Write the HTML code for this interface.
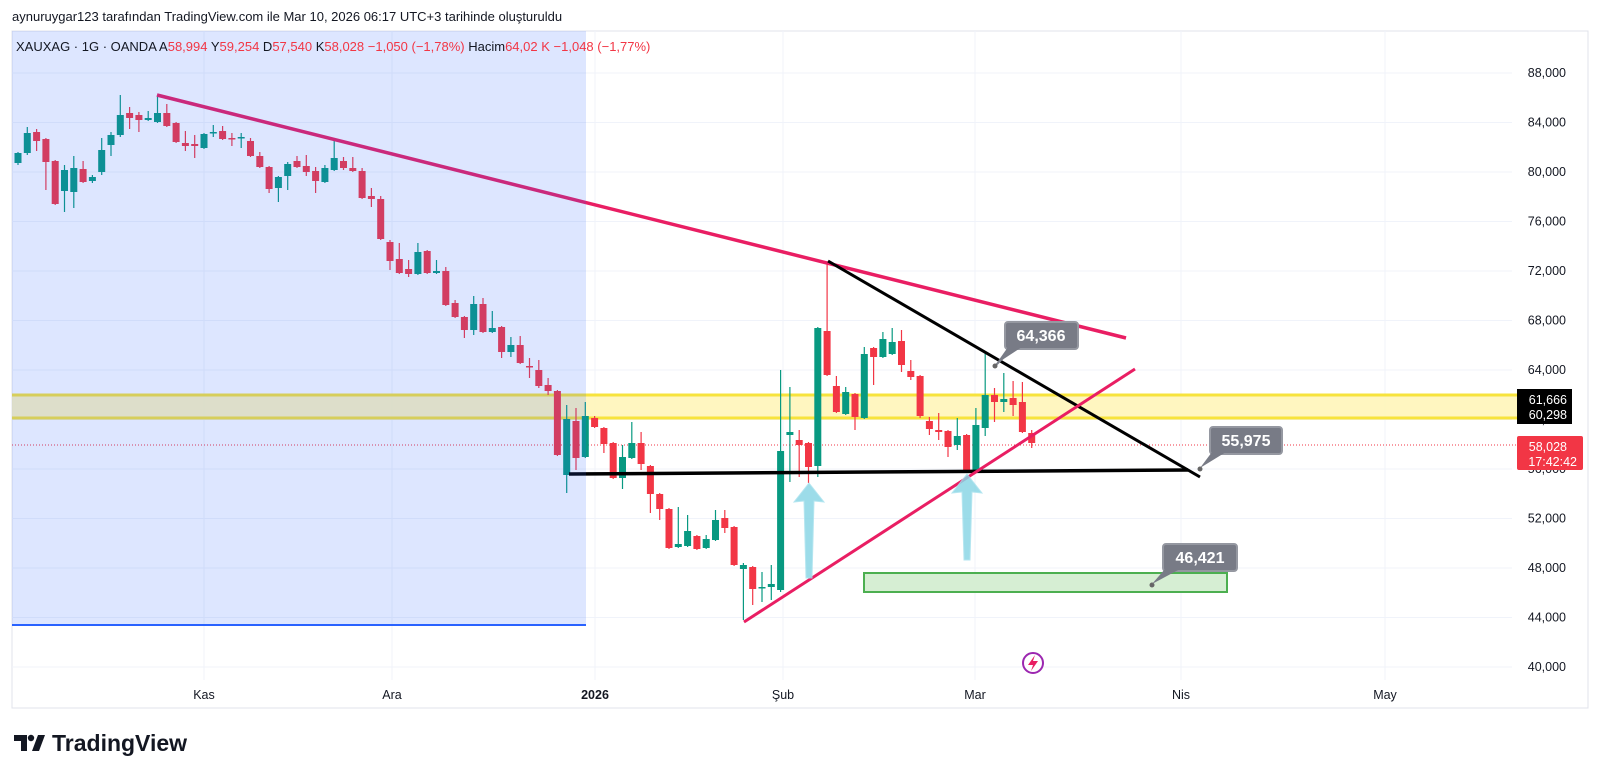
<!DOCTYPE html>
<html><head><meta charset="utf-8">
<style>
body{margin:0;background:#fff;width:1600px;height:776px;overflow:hidden;font-family:"Liberation Sans",sans-serif;}
svg{position:absolute;left:0;top:0}
</style></head><body>
<svg id="s" width="1600" height="776" xmlns="http://www.w3.org/2000/svg" font-family="Liberation Sans, sans-serif">
<rect x="0" y="0" width="1600" height="776" fill="#fff"/>
<rect x="12" y="31" width="1576" height="677" fill="none" stroke="#e0e3eb"/>
<g id="grid" stroke="#f0f3fa" stroke-width="1"></g>
<rect x="12" y="395" width="1508" height="23" fill="#fff5b5" opacity="0.85"/>
<line x1="12" y1="395" x2="1520" y2="395" stroke="#f7e33c" stroke-width="3"/>
<line x1="12" y1="418" x2="1520" y2="418" stroke="#f7e33c" stroke-width="3"/>
<line x1="12" y1="445" x2="1520" y2="445" stroke="#f23645" stroke-width="1" stroke-dasharray="1,2"/>
<g id="candles"></g>
<line x1="157" y1="95" x2="1126" y2="338" stroke="#e91e63" stroke-width="3.5"/>
<line x1="828" y1="261" x2="1200" y2="477" stroke="#000" stroke-width="3"/>
<line x1="569" y1="474" x2="1188" y2="470" stroke="#000" stroke-width="3.5"/>
<line x1="744" y1="622" x2="1135" y2="369" stroke="#e91e63" stroke-width="3"/>
<rect x="12" y="31" width="574" height="594" fill="#2962ff" opacity="0.16"/>
<line x1="12" y1="625" x2="586" y2="625" stroke="#2962ff" stroke-width="2"/>
<path d="M809 483 L824 502 L814 501 L812 578 L806 578 L804 501 L794 502 Z" fill="#8bd6e6" stroke="#a9e2ee" stroke-width="1" opacity="0.85"/>
<path d="M967 474 L982 493 L972 492 L970 560 L964 560 L962 492 L952 493 Z" fill="#8bd6e6" stroke="#a9e2ee" stroke-width="1" opacity="0.85"/>
<rect x="864" y="573" width="363" height="19" fill="#d6eed3" stroke="#4caf50" stroke-width="2"/>
<g>
<path d="M995 366 L1012 349" stroke="#80848e" stroke-width="2"/>
<circle cx="995" cy="366" r="2.5" fill="#666"/>
<rect x="1005" y="322" width="73" height="27" rx="3" fill="#787b86" stroke="#9598a1" stroke-width="2"/>
<path d="M1008 347 L996 364 L1022 347 Z" fill="#787b86"/>
<text x="1041" y="341" fill="#fff" font-size="16" font-weight="bold" text-anchor="middle">64,366</text>
</g>
<g>
<circle cx="1200" cy="469" r="2.5" fill="#666"/>
<rect x="1210" y="427" width="72" height="27" rx="3" fill="#787b86" stroke="#9598a1" stroke-width="2"/>
<path d="M1212 452 L1200 468 L1226 452 Z" fill="#787b86"/>
<text x="1246" y="446" fill="#fff" font-size="16" font-weight="bold" text-anchor="middle">55,975</text>
</g>
<g>
<circle cx="1152" cy="585" r="2.5" fill="#666"/>
<rect x="1163" y="544" width="74" height="27" rx="3" fill="#787b86" stroke="#9598a1" stroke-width="2"/>
<path d="M1165 569 L1152 584 L1180 569 Z" fill="#787b86"/>
<text x="1200" y="563" fill="#fff" font-size="16" font-weight="bold" text-anchor="middle">46,421</text>
</g>
<circle cx="1033" cy="663" r="10" fill="#fff" stroke="#9c27b0" stroke-width="2"/>
<path d="M1035 655 L1028 665 L1033 665 L1031 671 L1038 661 L1033 661 Z" fill="#e91e63"/>
<g id="paxis" font-size="12.5" fill="#131722" text-anchor="end"></g>
<rect x="1517" y="389" width="55" height="35" fill="#000"/>
<text x="1567" y="404" font-size="12.5" fill="#fff" text-anchor="end">61,666</text>
<text x="1567" y="419" font-size="12.5" fill="#fff" text-anchor="end">60,298</text>
<rect x="1517" y="436" width="66" height="34" rx="2" fill="#f23645"/>
<text x="1567" y="451" font-size="12.5" fill="#fff" text-anchor="end">58,028</text>
<text x="1577" y="466" font-size="12.5" fill="#fff" text-anchor="end">17:42:42</text>
<g font-size="12.5" fill="#131722" text-anchor="middle">
<text x="204" y="699">Kas</text><text x="392" y="699">Ara</text>
<text x="595" y="699" font-weight="bold">2026</text><text x="783" y="699">Şub</text>
<text x="975" y="699">Mar</text><text x="1181" y="699">Nis</text><text x="1385" y="699">May</text>
</g>
<text x="12" y="21" font-size="13" fill="#131722">aynuruygar123 tarafından TradingView.com ile Mar 10, 2026 06:17 UTC+3 tarihinde oluşturuldu</text>
<text x="16" y="51" font-size="13" fill="#131722">XAUXAG · 1G · OANDA  A<tspan fill="#f23645">58,994</tspan> Y<tspan fill="#f23645">59,254</tspan> D<tspan fill="#f23645">57,540</tspan> K<tspan fill="#f23645">58,028</tspan> <tspan fill="#f23645">−1,050 (−1,78%)</tspan> Hacim<tspan fill="#f23645">64,02 K</tspan> <tspan fill="#f23645">−1,048 (−1,77%)</tspan></text>
<g fill="#131722">
<path d="M14 735 h13 v16 h-6 v-10 h-7 Z"/><circle cx="31" cy="738" r="3.2"/><path d="M32 751 l6 -16 h7 l-6 16 Z"/>
</g>
<text x="52" y="751" font-size="23" font-weight="bold" fill="#131722">TradingView</text>
</svg>
<script>
var NS="http://www.w3.org/2000/svg";
function el(p,t,a){var e=document.createElementNS(NS,t);for(var k in a)e.setAttribute(k,a[k]);p.appendChild(e);return e;}
var g=document.getElementById('grid');
[204,392,595,783,975,1181,1385].forEach(function(x){el(g,'line',{x1:x,y1:31,x2:x,y2:680});});
var pa=document.getElementById('paxis');
for(var k=0;k<=12;k++){var y=73+k*49.5;el(g,'line',{x1:12,y1:y,x2:1512,y2:y});
 var t=el(pa,'text',{x:1566,y:y+4});t.textContent=(88-4*k)+",000";}
var D=[
"g,153,163,152,165","g,133,153,127,155","r,132,141,129,151","r,139,162,138,190","r,161,204,160,205",
"g,170,191,165,212","g,168,192,156,208","r,169,182,161,183","g,177,181,175,183","g,150,172,138,175",
"g,135,145,132,156","g,115,135,95,137","r,113,118,107,129","r,115,120,112,132","g,118,120,111,121",
"g,113,122,95,123","r,113,126,104,127","r,123,142,122,143","r,143,146,131,151","r,144,146,135,158",
"g,134,148,133,149","g,132,133,125,137","r,131,139,126,140","r,138,139,133,146","g,137,138,133,148",
"r,141,156,138,157","r,156,167,152,168","r,167,189,166,193","g,177,188,176,202","g,164,176,162,190",
"r,161,167,156,168","r,166,172,155,176","r,171,181,167,193","g,168,182,165,183","g,158,170,138,171",
"r,161,168,157,170","r,168,171,157,172","r,171,198,168,199","r,196,199,188,207","r,199,239,196,240",
"r,242,261,240,270","r,259,273,243,274","r,269,274,260,277","g,252,274,243,275","r,251,273,250,274",
"g,271,273,260,274","r,271,305,267,306","r,303,317,300,318","r,317,330,316,338","g,304,330,296,335",
"r,304,332,298,333","g,328,332,311,333","r,327,352,326,358","g,345,352,337,357","r,345,363,336,364",
"r,366,367,358,378","r,370,386,360,388","r,385,391,378,395","r,391,455,390,456","g,419,475,405,493",
"r,421,458,408,470","g,416,457,402,458","r,418,427,416,428","r,428,444,427,453","r,443,478,442,479",
"g,457,478,445,489","g,443,458,422,459","r,443,464,432,470","r,466,494,465,513","r,494,509,493,520",
"r,509,548,508,549","g,544,547,507,548","g,531,546,515,547","r,536,549,535,550","g,539,548,535,549",
"g,520,540,510,541","r,518,528,510,533","r,527,565,526,566","g,565,569,563,620","r,567,589,566,605",
"g,587,588,572,602","g,584,587,565,600","g,451,590,370,592","g,432,435,387,482","r,440,445,430,477",
"r,443,467,442,483","g,328,466,327,477","r,331,375,262,376","r,386,412,376,413","g,392,414,387,415",
"r,394,417,393,430","g,354,418,347,419","r,348,357,347,385","g,339,357,332,358","g,342,354,328,355",
"r,341,365,330,372","r,371,377,360,380","r,376,416,375,418","r,421,429,417,435","r,430,432,413,440",
"r,431,447,430,457","g,436,445,418,450","r,435,470,434,471","g,425,470,408,471","g,395,428,353,436",
"r,395,402,388,422","g,399,402,373,412","r,398,405,381,416","r,402,432,382,433","r,433,443,430,448"];
var cg=document.getElementById('candles');
D.forEach(function(s,i){var a=s.split(',');var c=a[0]=='g'?'#089981':'#f23645';var x=18+i*9.3;
 var bt=+a[1],bb=+a[2],wt=+a[3],wb=+a[4];
 el(cg,'line',{x1:x,y1:wt,x2:x,y2:wb,stroke:c,'stroke-width':1.2});
 el(cg,'rect',{x:x-3.5,y:bt,width:7,height:Math.max(1.5,bb-bt),fill:c});});
</script>
</body></html>
